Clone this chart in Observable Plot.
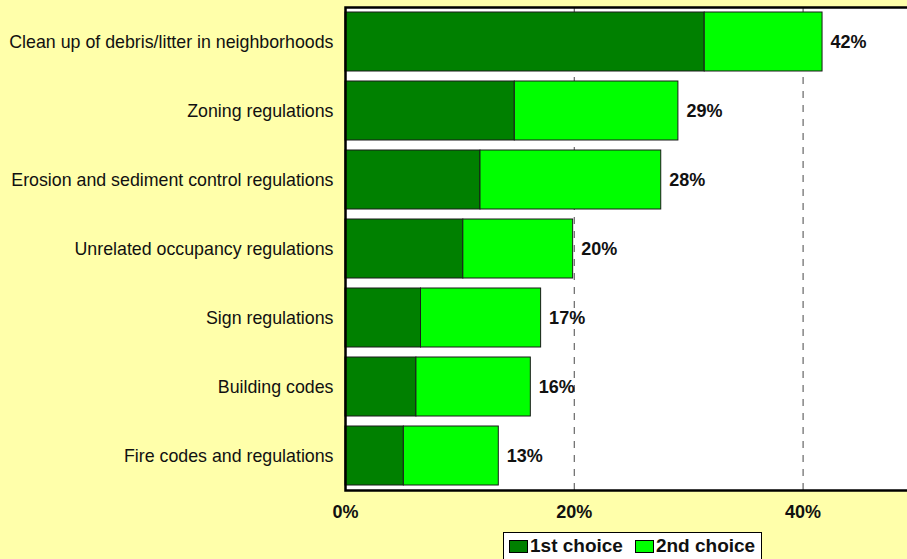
<!DOCTYPE html>
<html>
<head>
<meta charset="utf-8">
<script src="https://cdn.jsdelivr.net/npm/d3@7"></script>
<script src="https://cdn.jsdelivr.net/npm/@observablehq/plot@0.6"></script>
<style>
  html, body { margin: 0; padding: 0; background: #FFFFAA; overflow: hidden; }
  body { width: 907px; height: 559px; font-family: Arial, "Liberation Sans", sans-serif; }
  #chart svg { display: block; }
  .legend { position: absolute; left: 503px; top: 532px; width: 259px; height: 32px; background: #fff;
    border: 1px solid #000; box-sizing: border-box; display: flex; align-items: flex-start; padding: 2px 0 0 5px;
    font: bold 19px Arial, "Liberation Sans", sans-serif; color: #111; line-height: 22px; }
  .legend span.sw { display: inline-block; width: 19px; height: 13px; border: 1px solid #000; box-sizing: border-box; margin: 5px 2px 0 0; }
  .legend .item { display: flex; align-items: flex-start; margin-right: 12px; white-space: nowrap; }
</style>
</head>
<body>
<div id="chart"></div>
<script>
const categories = [
  "Clean up of debris/litter in neighborhoods",
  "Zoning regulations",
  "Erosion and sediment control regulations",
  "Unrelated occupancy regulations",
  "Sign regulations",
  "Building codes",
  "Fire codes and regulations"
];
const seriesNames = ["1st choice", "2nd choice"];
const firstChoice  = [31.4, 14.8, 11.8, 10.3, 6.6, 6.2, 5.1];
const secondChoice = [10.3, 14.3, 15.8, 9.6, 10.5, 10.0, 8.3];
const totalLabels  = ["42%", "29%", "28%", "20%", "17%", "16%", "13%"];
const xTicks = [0, 20, 40];
const gridTicks = [20, 40];
const colors = ["#008000", "#00FF00"];

const long = [];
categories.forEach((c, i) => {
  long.push({cat: c, choice: seriesNames[0], value: firstChoice[i]});
  long.push({cat: c, choice: seriesNames[1], value: secondChoice[i]});
});
const totals = categories.map((c, i) => ({cat: c, total: firstChoice[i] + secondChoice[i], label: totalLabels[i]}));

const chart = Plot.plot({
  width: 907,
  height: 541,
  marginLeft: 345,
  marginRight: -10,
  marginTop: 7,
  marginBottom: 51,
  style: {background: "#FFFFAA", fontFamily: "Arial, 'Liberation Sans', sans-serif", fontSize: "18px", color: "#111", overflow: "hidden"},
  x: {domain: [0, 50], axis: null},
  y: {domain: categories, paddingInner: 0.14, paddingOuter: 0.07, axis: null},
  color: {domain: seriesNames, range: colors},
  marks: [
    Plot.frame({fill: "white", stroke: null}),
    Plot.ruleX(gridTicks, {stroke: "#666", strokeWidth: 1.2, strokeDasharray: "7,7"}),
    Plot.barX(long, Plot.stackX({x: "value", y: "cat", fill: "choice", stroke: "#1a1a1a", strokeWidth: 1, order: null})),
    Plot.text(totals, {x: "total", y: "cat", text: "label", textAnchor: "start", dx: 8, fontWeight: "bold", fontSize: 18, fill: "#111"}),
    Plot.frame({stroke: "#000", strokeWidth: 2.5}),
    Plot.axisX(xTicks, {tickSize: 0, tickPadding: 15, tickFormat: d => d + "%", fontWeight: "bold", fontSize: 18, fill: "#111", label: null}),
    Plot.axisY({tickSize: 0, tickPadding: 12, fontSize: 17.8, fill: "#111", label: null})
  ]
});
document.getElementById("chart").appendChild(chart);

const legend = document.createElement("div");
legend.className = "legend";
seriesNames.forEach((name, i) => {
  const item = document.createElement("div");
  item.className = "item";
  const sw = document.createElement("span");
  sw.className = "sw";
  sw.style.background = colors[i];
  item.appendChild(sw);
  item.appendChild(document.createTextNode(name));
  legend.appendChild(item);
});
document.body.appendChild(legend);
</script>
</body>
</html>
